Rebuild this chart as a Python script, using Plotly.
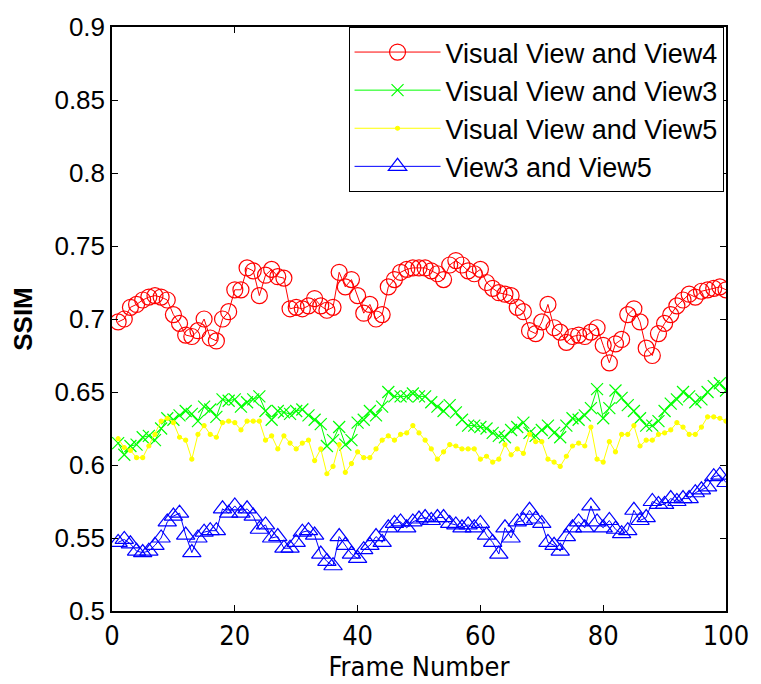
import plotly.graph_objects as go

frames = list(range(1, 101))

vv_view4 = [0.698, 0.700, 0.708, 0.710, 0.713, 0.715, 0.716, 0.715, 0.713, 0.703,
            0.697, 0.689, 0.688, 0.692, 0.700, 0.687, 0.685, 0.700, 0.705, 0.720,
            0.720, 0.735, 0.733, 0.716, 0.730, 0.734, 0.729, 0.728, 0.707, 0.708,
            0.707, 0.709, 0.714, 0.709, 0.706, 0.708, 0.732, 0.722, 0.727, 0.716,
            0.704, 0.710, 0.700, 0.703, 0.722, 0.727, 0.732, 0.734, 0.735, 0.735,
            0.735, 0.733, 0.731, 0.727, 0.737, 0.740, 0.737, 0.733, 0.731, 0.734,
            0.725, 0.721, 0.718, 0.717, 0.716, 0.708, 0.705, 0.692, 0.690, 0.698,
            0.710, 0.694, 0.691, 0.684, 0.688, 0.689, 0.688, 0.691, 0.694, 0.682,
            0.670, 0.683, 0.686, 0.703, 0.707, 0.698, 0.680, 0.675, 0.690, 0.697,
            0.703, 0.709, 0.713, 0.717, 0.715, 0.719, 0.720, 0.721, 0.722, 0.720]

vv_view3 = [0.615, 0.607, 0.613, 0.614, 0.619, 0.620, 0.617, 0.625, 0.632, 0.631,
            0.634, 0.637, 0.635, 0.630, 0.640, 0.638, 0.633, 0.645, 0.644, 0.645,
            0.640, 0.643, 0.645, 0.647, 0.637, 0.631, 0.637, 0.636, 0.635, 0.637,
            0.638, 0.634, 0.631, 0.628, 0.613, 0.617, 0.626, 0.614, 0.617, 0.629,
            0.631, 0.637, 0.634, 0.640, 0.650, 0.647, 0.647, 0.647, 0.649, 0.647,
            0.647, 0.643, 0.640, 0.637, 0.641, 0.636, 0.631, 0.627, 0.627, 0.626,
            0.625, 0.622, 0.620, 0.619, 0.624, 0.626, 0.629, 0.622, 0.620, 0.624,
            0.627, 0.622, 0.619, 0.627, 0.632, 0.631, 0.634, 0.639, 0.652, 0.632,
            0.639, 0.651, 0.646, 0.641, 0.637, 0.632, 0.627, 0.627, 0.630, 0.637,
            0.642, 0.645, 0.650, 0.647, 0.643, 0.645, 0.650, 0.654, 0.656, 0.651]

vv_view5 = [0.618, 0.612, 0.610, 0.605, 0.605, 0.613, 0.621, 0.630, 0.632, 0.629,
            0.619, 0.617, 0.604, 0.621, 0.627, 0.621, 0.619, 0.629, 0.630, 0.629,
            0.624, 0.630, 0.630, 0.630, 0.617, 0.620, 0.611, 0.620, 0.615, 0.611,
            0.615, 0.617, 0.603, 0.611, 0.594, 0.599, 0.614, 0.595, 0.601, 0.609,
            0.605, 0.605, 0.611, 0.617, 0.620, 0.617, 0.621, 0.622, 0.627, 0.622,
            0.617, 0.611, 0.604, 0.609, 0.614, 0.613, 0.611, 0.611, 0.611, 0.604,
            0.606, 0.602, 0.604, 0.614, 0.607, 0.611, 0.608, 0.621, 0.616, 0.616,
            0.604, 0.602, 0.599, 0.606, 0.613, 0.615, 0.613, 0.626, 0.604, 0.602,
            0.616, 0.609, 0.621, 0.621, 0.627, 0.613, 0.617, 0.617, 0.621, 0.622,
            0.624, 0.629, 0.626, 0.621, 0.621, 0.626, 0.633, 0.633, 0.632, 0.630]

v3_view5 = [0.547, 0.549, 0.546, 0.541, 0.540, 0.541, 0.545, 0.550, 0.561, 0.565,
            0.567, 0.552, 0.540, 0.550, 0.554, 0.555, 0.555, 0.570, 0.567, 0.572,
            0.567, 0.570, 0.565, 0.556, 0.559, 0.550, 0.551, 0.543, 0.543, 0.547,
            0.554, 0.555, 0.552, 0.539, 0.534, 0.531, 0.551, 0.545, 0.539, 0.536,
            0.542, 0.545, 0.551, 0.547, 0.557, 0.560, 0.561, 0.557, 0.561, 0.563,
            0.564, 0.562, 0.564, 0.564, 0.560, 0.559, 0.557, 0.559, 0.557, 0.560,
            0.552, 0.547, 0.539, 0.557, 0.550, 0.561, 0.562, 0.569, 0.563, 0.560,
            0.547, 0.545, 0.541, 0.551, 0.557, 0.561, 0.557, 0.572, 0.561, 0.557,
            0.562, 0.556, 0.553, 0.555, 0.569, 0.562, 0.564, 0.575, 0.573, 0.573,
            0.577, 0.575, 0.577, 0.577, 0.581, 0.583, 0.585, 0.592, 0.593, 0.588]

names = ["Visual View and View4", "Visual View and View3",
         "Visual View and View5", "View3 and View5"]
series = [vv_view4, vv_view3, vv_view5, v3_view5]
colors = ["#ff0000", "#00ff00", "#ffff00", "#0000ff"]
symbols = ["circle-open", "x-thin-open", "circle", "triangle-up-open"]
sizes = [16, 12, 4, 16]

fig = go.Figure()
for name, ys, c, s, sz in zip(names, series, colors, symbols, sizes):
    fig.add_trace(go.Scatter(
        x=frames, y=ys, name=name, mode="lines+markers",
        line=dict(color=c, width=1),
        marker=dict(symbol=s, size=sz, color=c, line=dict(color=c, width=1.2)),
    ))

axis_common = dict(
    showline=True, linecolor="black", linewidth=1.5, mirror="ticks",
    ticks="inside", ticklen=6, tickcolor="black", tickwidth=1,
    showgrid=False, zeroline=False, ticklabeloverflow="allow",
)

narrow = "Liberation Sans Narrow, DejaVu Sans Condensed, sans-serif"

fig.update_layout(
    width=761, height=684,
    margin=dict(l=112, r=24, t=12, b=56),
    paper_bgcolor="white", plot_bgcolor="white",
    font=dict(family="Liberation Sans, Arial, sans-serif", color="black"),
    xaxis=dict(range=[0, 100], tickvals=[0, 20, 40, 60, 80, 100],
               tickfont=dict(family=narrow, size=27),
               title=dict(text="Frame Number", standoff=2,
                          font=dict(family=narrow, size=27)),
               **axis_common),
    yaxis=dict(range=[0.5, 0.9], tickvals=[0.5, 0.55, 0.6, 0.65, 0.7, 0.75, 0.8, 0.85, 0.9],
               ticktext=["0.5", "0.55", "0.6", "0.65", "0.7", "0.75", "0.8", "0.85", "0.9"],
               tickfont=dict(size=26),
               title=dict(text="<b>SSIM</b>", standoff=14, font=dict(size=26)),
               **axis_common),
    legend=dict(x=0.996, xanchor="right", y=1.0, yanchor="top",
                bgcolor="white", bordercolor="black", borderwidth=1,
                font=dict(size=27), itemwidth=86, tracegroupgap=0),
    showlegend=True,
)

fig.write_html("out.html")
